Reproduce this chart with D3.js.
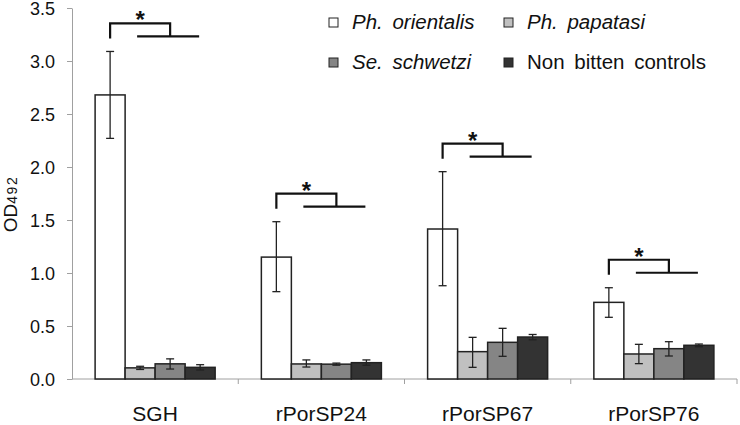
<!DOCTYPE html>
<html><head><meta charset="utf-8">
<script src="https://cdn.jsdelivr.net/npm/d3@7/dist/d3.min.js"></script>
<style>body{margin:0;background:#fff}svg{display:block;font-family:Arial,"Liberation Sans",sans-serif}</style>
</head><body><svg id="c" width="740" height="425"></svg>
<script>
const categories = ["SGH", "rPorSP24", "rPorSP67", "rPorSP76"];
const seriesNames = ["Ph. orientalis", "Ph. papatasi", "Se. schwetzi", "Non bitten controls"];
const seriesItalic = [true, true, true, false];
const colors = ["#ffffff", "#c0c0c0", "#858585", "#333333"];
// values[series][category]
const values = [
  [2.68, 1.15, 1.415, 0.723],
  [0.105, 0.142, 0.258, 0.236],
  [0.143, 0.140, 0.346, 0.286],
  [0.110, 0.154, 0.396, 0.318]
];
const errLow = [
  [2.27, 0.824, 0.88, 0.582],
  [0.09, 0.113, 0.11, 0.145],
  [0.094, 0.13, 0.214, 0.217],
  [0.085, 0.13, 0.37, 0.305]
];
const errHigh = [
  [3.09, 1.484, 1.956, 0.861],
  [0.12, 0.18, 0.393, 0.327],
  [0.19, 0.15, 0.478, 0.352],
  [0.135, 0.18, 0.42, 0.33]
];
const yTicks = [0, 0.5, 1.0, 1.5, 2.0, 2.5, 3.0, 3.5];

const svg = d3.select("#c");
const x = d3.scaleBand().domain(categories).range([72, 737]);
const xs = d3.scaleBand().domain(d3.range(seriesNames.length)).range([0, x.bandwidth()]).paddingOuter(0.77);
const y = d3.scaleLinear().domain([0, 3.5]).range([379, 8]);

// y axis
const ya = svg.append("g").attr("transform", "translate(72,0)")
  .call(d3.axisLeft(y).tickValues(yTicks).tickFormat(d3.format(".1f")).tickSize(5).tickSizeOuter(0));
ya.select(".domain").attr("stroke", "#a0a0a0");
ya.selectAll(".tick line").attr("stroke", "#a0a0a0");
ya.selectAll(".tick text").attr("font-size", 18).attr("fill", "#111").attr("x", -17).attr("dy", "0.36em")
  .attr("font-family", "Arial, Liberation Sans, sans-serif");

// x axis
const xg = svg.append("g");
xg.append("line").attr("x1", x.range()[0]).attr("x2", x.range()[1]).attr("y1", y(0)).attr("y2", y(0)).attr("stroke", "#a0a0a0");
categories.forEach(c => {
  const bx = x(c) + x.bandwidth();
  xg.append("line").attr("x1", bx).attr("x2", bx).attr("y1", y(0)).attr("y2", y(0) + 5).attr("stroke", "#a0a0a0");
  xg.append("text").attr("x", x(c) + x.bandwidth() / 2).attr("y", 421).attr("text-anchor", "middle")
    .attr("font-size", 21).attr("fill", "#111").text(c);
});

// bars
seriesNames.forEach((s, si) => {
  categories.forEach((c, ci) => {
    const bx = x(c) + xs(si);
    svg.append("rect").attr("x", bx).attr("y", y(values[si][ci])).attr("width", xs.bandwidth())
      .attr("height", y(0) - y(values[si][ci])).attr("fill", colors[si]).attr("stroke", "#222").attr("stroke-width", 1.5);
  });
});
// error bars
seriesNames.forEach((s, si) => {
  categories.forEach((c, ci) => {
    const cx = x(c) + xs(si) + xs.bandwidth() / 2;
    const g = svg.append("g").attr("stroke", "#222").attr("stroke-width", 1.3);
    g.append("line").attr("x1", cx).attr("x2", cx).attr("y1", y(errLow[si][ci])).attr("y2", y(errHigh[si][ci]));
    g.append("line").attr("x1", cx - 4).attr("x2", cx + 4).attr("y1", y(errLow[si][ci])).attr("y2", y(errLow[si][ci]));
    g.append("line").attr("x1", cx - 4).attr("x2", cx + 4).attr("y1", y(errHigh[si][ci])).attr("y2", y(errHigh[si][ci]));
  });
});

// significance brackets
categories.forEach((c, ci) => {
  const cxs = d3.range(4).map(si => x(c) + xs(si) + xs.bandwidth() / 2);
  const e = y(errHigh[0][ci]);
  const top = e - 28, lb = e - 13, ln = e - 15;
  const g = svg.append("g").attr("stroke", "#111").attr("stroke-width", 2.2).attr("fill", "none");
  g.append("path").attr("d", `M${cxs[0]},${lb}V${top}H${cxs[2]}V${ln}`);
  g.append("line").attr("x1", cxs[1] - 3).attr("x2", cxs[3] - 1).attr("y1", ln).attr("y2", ln);
  svg.append("text").attr("x", (cxs[0] + cxs[2]) / 2).attr("y", top + 5).attr("text-anchor", "middle")
    .attr("font-size", 24).attr("font-weight", "bold").attr("fill", "#111").text("*");
});

// legend
const legPos = [[329, 18], [504, 18], [329, 58], [504, 58]];
seriesNames.forEach((s, si) => {
  const [lx, ly] = legPos[si];
  svg.append("rect").attr("x", lx).attr("y", ly).attr("width", 9).attr("height", 9)
    .attr("fill", colors[si]).attr("stroke", "#222").attr("stroke-width", 1);
  svg.append("text").attr("x", lx + 23).attr("y", ly + 10.5).attr("font-size", 20.5)
    .attr("font-style", seriesItalic[si] ? "italic" : "normal").attr("fill", "#111")
    .attr("word-spacing", 4).text(s);
});

// y label
svg.append("text").attr("transform", "translate(17,204) rotate(-90)").attr("text-anchor", "middle")
  .attr("font-size", 19).attr("fill", "#111")
  .call(t => { t.append("tspan").text("OD"); t.append("tspan").attr("font-size", 14).attr("letter-spacing", 1.5).text("492"); });
</script></body></html>
